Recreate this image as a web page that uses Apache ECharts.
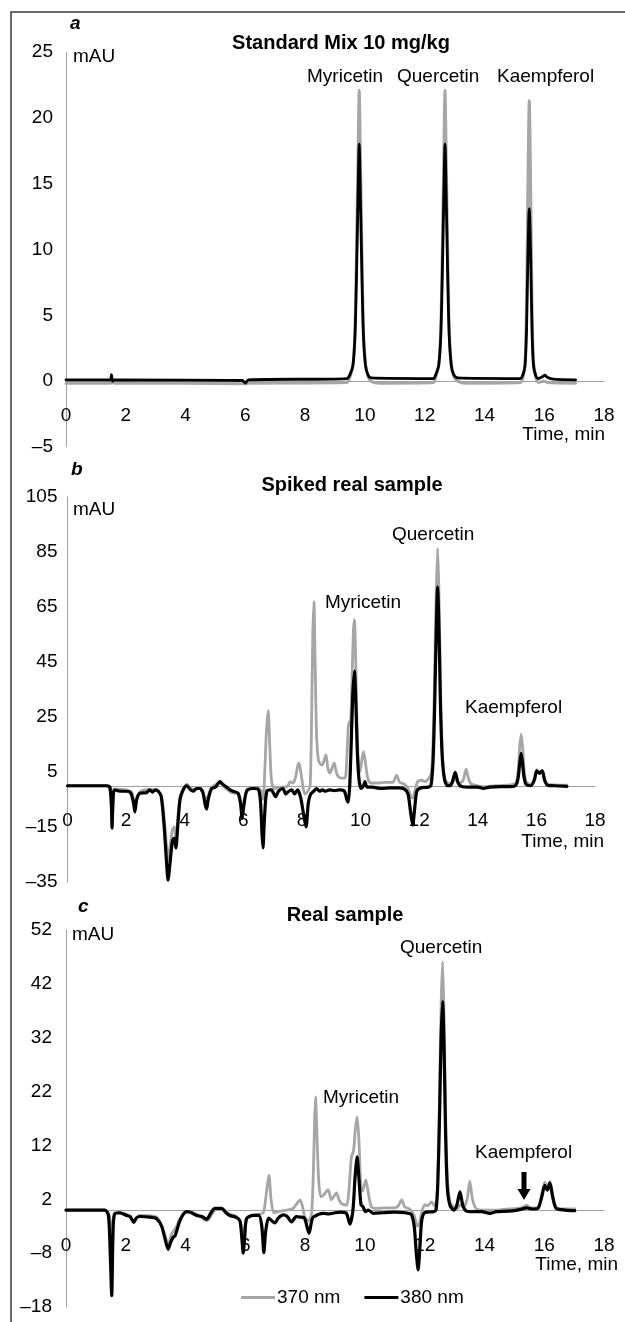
<!DOCTYPE html>
<html>
<head>
<meta charset="utf-8">
<script src="https://cdn.jsdelivr.net/npm/echarts@6/dist/echarts.min.js"></script>
<style>
html,body{margin:0;padding:0;background:#fff;}
#chart{width:625px;height:1322px;}
</style>
</head>
<body>
<div id="chart"></div>
<script>
// ---------- DATA ----------
var xTicks = [0, 2, 4, 6, 8, 10, 12, 14, 16, 18];
var yTicksA = [-5, 0, 5, 10, 15, 20, 25];
var yTicksB = [-35, -15, 5, 25, 45, 65, 85, 105];
var yTicksC = [-18, -8, 2, 12, 22, 32, 42, 52];
var seriesNames = ['370 nm', '380 nm'];
var panelTitles = ['Standard Mix 10 mg/kg', 'Spiked real sample', 'Real sample'];
var panelLetters = ['a', 'b', 'c'];
var peakNames = ['Myricetin', 'Quercetin', 'Kaempferol'];

// Panel a: standard mix
var a370 = [[0,-0.15],[1.5,-0.15],[1.55,-0.05],[1.6,-0.15],[4,-0.15],[6,-0.2],[6.1,-0.15],[9.4,-0.1],[9.5,0.3],[9.6,1.2],[9.67,4],[9.72,10],[9.77,17],[9.81,22.1],[9.85,17],[9.9,10],[9.95,4],[10.02,1.3],[10.1,0.4],[10.2,0],[10.5,-0.15],
  [12.3,-0.1],[12.37,0.3],[12.47,1.2],[12.54,4],[12.59,10],[12.64,17],[12.68,22.1],[12.72,17],[12.77,10],[12.82,4],[12.89,1.3],[12.97,0.4],[13.1,0],[13.4,-0.15],
  [15.2,-0.1],[15.29,0.3],[15.36,1.5],[15.41,6],[15.45,14],[15.5,21.3],[15.55,14],[15.59,6],[15.64,1.5],[15.72,0.3],[15.8,-0.1],[16.0,0],[16.1,-0.1],[17.05,-0.15]];
var a380 = [[0,0.1],[1.48,0.1],[1.52,0.5],[1.56,0],[1.62,0.1],[5.9,0.05],[6.0,-0.15],[6.1,0.1],[9.4,0.2],[9.5,0.5],[9.6,1.2],[9.67,3.5],[9.72,8],[9.77,14],[9.81,18],[9.85,14],[9.9,8],[9.95,3.5],[10.02,1.2],[10.1,0.5],[10.2,0.25],
  [12.3,0.2],[12.37,0.5],[12.47,1.2],[12.54,3.5],[12.59,8],[12.64,14],[12.68,18],[12.72,14],[12.77,8],[12.82,3.5],[12.89,1.2],[12.97,0.5],[13.1,0.25],
  [15.2,0.2],[15.29,0.5],[15.36,1.2],[15.41,4],[15.45,9],[15.5,13.1],[15.55,9],[15.59,4],[15.64,1.2],[15.72,0.4],[15.8,0.2],[15.95,0.35],[16.02,0.45],[16.1,0.3],[16.3,0.15],[17.05,0.1]];

// Panel b: spiked real sample
var b370 = [[0,0],[1.35,0],[1.5,-6],[1.53,-12],[1.57,-4],[1.62,-1.2],[2.0,-1.5],[2.2,-2.5],[2.3,-8],[2.38,-4],[2.5,-2],[2.8,-1.3],[3.0,-1.5],[3.2,-3.5],[3.3,-12],[3.38,-22],[3.43,-27],[3.5,-22],[3.58,-16],[3.64,-15],[3.7,-19],[3.76,-12],[3.84,-4],[3.95,-1],[4.07,0.5],[4.3,-1.5],[4.5,-0.5],[4.62,-2],[4.72,-6],[4.8,-3.5],[4.92,-0.5],[5.2,1],[5.4,-1],[5.6,-2.5],[5.82,-3],[5.96,-9],[6.1,-2.5],[6.3,-1],[6.5,-1],[6.62,-2],[6.68,-5],[6.73,5],[6.79,20],[6.85,27.3],[6.9,15],[6.96,2],[7.05,-1],[7.3,-0.5],[7.5,-0.3],[7.6,1.5],[7.7,1],[7.78,3],[7.85,7],[7.9,8.2],[7.96,5],[8.03,0],[8.1,-3],[8.2,-2],[8.28,0],[8.33,25],[8.37,55],[8.41,66.9],[8.45,45],[8.5,18],[8.56,9.4],[8.62,8],[8.69,7.5],[8.75,9],[8.82,11.2],[8.89,6],[8.96,4.6],[9.03,6.5],[9.1,8.3],[9.17,5],[9.24,3.3],[9.35,2.8],[9.47,2.8],[9.53,10],[9.58,21],[9.61,23.2],[9.65,22],[9.7,35],[9.75,55],[9.79,60.3],[9.83,48],[9.88,22],[9.93,8],[9.98,5],[10.04,9],[10.1,12.4],[10.16,9],[10.24,3],[10.35,1],[10.6,1],[10.9,1.2],[11.1,1.2],[11.23,3.9],[11.33,1.3],[11.5,0.5],[11.62,-1],[11.72,-4],[11.78,-4.5],[11.85,-2],[11.95,1.5],[12.09,2],[12.2,1.5],[12.35,3],[12.42,5],[12.47,15],[12.52,35],[12.57,65],[12.63,86.3],[12.68,68],[12.73,35],[12.79,12],[12.87,3],[12.97,1],[13.1,0.8],[13.23,2.5],[13.35,0.8],[13.5,2],[13.6,6],[13.7,2],[13.8,0.5],[14.2,-0.3],[14.6,0],[15.1,0.3],[15.3,1],[15.38,6],[15.43,14],[15.48,18.8],[15.53,14],[15.58,6],[15.65,1.5],[15.8,0.5],[15.93,2.5],[16.01,5.8],[16.1,5],[16.2,5.6],[16.28,2.5],[16.38,0.5],[16.6,0.3],[17.04,0.2]];
var b380 = [[0,0],[1.35,0],[1.45,-0.5],[1.5,-8],[1.52,-15.4],[1.55,-6],[1.6,-1.5],[1.8,-2],[2.0,-2],[2.15,-2.5],[2.25,-6],[2.3,-9.5],[2.36,-5],[2.47,-2.7],[2.7,-2.5],[2.8,-1.5],[2.9,-2.3],[3.0,-1.5],[3.1,-2],[3.2,-4],[3.3,-15],[3.38,-28],[3.43,-34.3],[3.5,-28],[3.58,-20],[3.64,-19],[3.7,-22.6],[3.76,-15],[3.84,-5],[3.95,-1.5],[4.07,0],[4.2,-1.5],[4.29,-2],[4.4,-1],[4.52,-1],[4.62,-2.5],[4.7,-7],[4.75,-8.5],[4.8,-5],[4.92,-1],[5.05,-0.5],[5.2,1.5],[5.3,0.5],[5.43,-0.5],[5.55,-1.5],[5.65,-2],[5.82,-2.7],[5.9,-6],[5.96,-11.8],[6.02,-7],[6.12,-1.7],[6.33,-1],[6.5,-1.2],[6.58,-5],[6.64,-18],[6.67,-22.6],[6.72,-12],[6.8,-2],[6.95,-1.5],[7.1,-4],[7.2,-2],[7.35,-1],[7.45,-3],[7.55,-2],[7.65,-1.5],[7.75,-3],[7.85,-1.5],[7.95,-4],[8.05,-10],[8.14,-15],[8.22,-6],[8.3,-3],[8.4,-2],[8.5,-1],[8.6,-2],[8.7,-1.5],[8.8,-2],[8.95,-1.5],[9.1,-1.8],[9.3,-1.5],[9.45,-2],[9.53,-5],[9.58,-6],[9.63,0],[9.68,15],[9.73,32],[9.79,41.7],[9.84,30],[9.89,12],[9.95,2],[10.02,-1],[10.1,0],[10.15,1.5],[10.22,-0.5],[10.4,-0.5],[10.7,-1],[11.0,-0.8],[11.3,-0.8],[11.5,-1.2],[11.62,-3],[11.7,-9],[11.78,-14.3],[11.85,-8],[11.92,-2],[12.05,-0.8],[12.3,-0.5],[12.4,0],[12.47,8],[12.52,25],[12.57,50],[12.63,72.2],[12.68,55],[12.73,28],[12.79,10],[12.87,2],[12.97,0],[13.1,0.5],[13.23,4.9],[13.33,1],[13.45,-0.3],[13.7,-0.5],[14.0,-0.5],[14.19,-1],[14.4,-0.5],[14.8,-0.3],[15.1,-0.3],[15.3,0.2],[15.38,3],[15.43,8],[15.48,11.8],[15.53,8],[15.58,3],[15.65,0.5],[15.8,0],[15.93,2],[16.01,5.4],[16.1,4.5],[16.2,5.4],[16.28,2],[16.38,0.2],[16.6,0],[17.04,-0.2]];

// Panel c: real sample
var c370 = [[0,0],[1.3,0],[1.45,-1],[1.5,-4],[1.54,-6],[1.58,-2],[1.65,-0.5],[2.03,-0.8],[2.27,-2],[2.47,-1],[3.03,-1.3],[3.3,-4.5],[3.42,-6.5],[3.52,-4.5],[3.59,-4],[3.7,-3],[3.79,-1.8],[4.04,-0.3],[4.37,-0.8],[4.71,-2],[4.98,0],[5.21,0.2],[5.48,-0.8],[5.71,-1.2],[5.88,-3],[5.93,-6.5],[6.0,-3],[6.1,-1.2],[6.4,-0.8],[6.6,-0.5],[6.7,3],[6.79,6.5],[6.86,2],[6.95,-0.5],[7.1,-0.3],[7.4,0],[7.6,0.3],[7.7,1],[7.83,1.9],[7.92,0.5],[8.0,-1.5],[8.13,-2],[8.22,-0.5],[8.28,8],[8.32,17],[8.35,21],[8.39,15],[8.45,6],[8.52,2.5],[8.62,2.8],[8.77,3.8],[8.88,1.9],[8.96,2.5],[9.05,3.2],[9.13,2],[9.22,1.2],[9.39,0.9],[9.47,4],[9.55,9.9],[9.62,11],[9.68,15],[9.74,17.3],[9.8,13],[9.86,5],[9.92,3.5],[10.03,5.6],[10.12,3],[10.22,0.6],[10.4,0.3],[10.7,0.4],[11.0,0.4],[11.12,0.8],[11.23,1.9],[11.33,0.6],[11.5,0.2],[11.65,-1],[11.75,-3],[11.82,-2.5],[11.9,-0.5],[12.0,1],[12.1,0.8],[12.23,1.5],[12.33,0.8],[12.4,2],[12.45,8],[12.5,22],[12.55,38],[12.6,46.1],[12.65,36],[12.7,18],[12.76,6],[12.85,1.5],[12.98,0.5],[13.1,0.3],[13.18,1],[13.3,0.5],[13.42,2],[13.51,5.3],[13.6,2],[13.72,0.3],[14.0,0],[14.4,0],[14.8,0.2],[15.1,0.3],[15.3,0.5],[15.41,0.9],[15.55,0.4],[15.8,0.5],[15.92,3],[16.02,5.2],[16.1,4.2],[16.19,5.3],[16.28,3],[16.4,0.5],[16.7,0.2],[17.02,0.2]];
var c380 = [[0,0],[1.3,0],[1.42,-1],[1.48,-8],[1.53,-15.9],[1.57,-5],[1.62,-0.8],[1.8,-0.5],[2.03,-1],[2.15,-1.2],[2.27,-2.3],[2.35,-1.5],[2.47,-1.2],[2.8,-1.3],[3.03,-1.6],[3.2,-3],[3.32,-5.5],[3.42,-7.3],[3.5,-6],[3.59,-5],[3.65,-4.8],[3.79,-2.3],[3.92,-0.8],[4.04,-0.3],[4.2,-0.5],[4.37,-1],[4.55,-1.2],[4.71,-1.7],[4.85,-0.5],[4.98,0.3],[5.21,0.3],[5.35,-0.5],[5.48,-1],[5.71,-1.4],[5.82,-2],[5.88,-5],[5.93,-8],[5.98,-5],[6.04,-1.6],[6.26,-1],[6.45,-1],[6.55,-3],[6.62,-7.9],[6.68,-4],[6.78,-1.5],[6.99,-2.4],[7.1,-1.5],[7.27,-0.9],[7.4,-1.2],[7.55,-2.2],[7.7,-1.2],[7.83,-1.3],[7.98,-1.5],[8.13,-4.3],[8.25,-1.5],[8.45,-0.8],[8.6,-0.6],[8.8,-0.7],[9.0,-0.5],[9.2,-0.4],[9.38,-0.6],[9.5,-2.6],[9.6,0],[9.67,6],[9.74,9.9],[9.8,6],[9.87,1],[9.94,0.6],[10.02,-0.3],[10.11,0],[10.28,-0.6],[10.6,-0.5],[11.0,-0.4],[11.35,-0.5],[11.55,-0.8],[11.65,-3],[11.72,-8],[11.78,-11.1],[11.84,-7],[11.9,-2],[12.0,-0.5],[12.3,-0.3],[12.38,0],[12.44,5],[12.5,18],[12.55,32],[12.6,38.7],[12.65,30],[12.7,14],[12.76,4],[12.85,0.8],[12.98,0],[13.08,1],[13.18,3.4],[13.28,0.8],[13.4,-0.2],[13.6,-0.3],[13.9,-0.3],[14.18,-0.6],[14.4,-0.3],[14.8,-0.2],[15.1,0],[15.25,0.2],[15.41,0.4],[15.6,0.2],[15.8,0.4],[15.92,2.5],[16.02,4.6],[16.1,3.7],[16.19,5],[16.28,2.5],[16.4,0.3],[16.7,0],[17.02,-0.1]];

// ---------- CHART ----------
var FONT = "'Liberation Sans', Arial, sans-serif";
var GREY = '#a6a6a6';
var AXIS = '#a0a0a0';
var dash = function (v) { return String(v).replace('-', '\u2013'); };

var grids = [
  {left: 66, top: 52, width: 538, height: 395},
  {left: 67.5, top: 497, width: 527.5, height: 385},
  {left: 66, top: 930, width: 538, height: 377}
];
var yRanges = [
  {min: -5, max: 25, interval: 5, ticks: yTicksA, margin: 13},
  {min: -35, max: 105, interval: 20, ticks: yTicksB, margin: 10},
  {min: -18, max: 52, interval: 10, ticks: yTicksC, margin: 14}
];
var xMargins = [25, 26, 26];

var xAxes = grids.map(function (g, i) {
  var r = yRanges[i];
  // move the x axis (line + labels) up to the y = 0 level of its own grid
  var zeroOffset = -g.height * (0 - r.min) / (r.max - r.min);
  return {
    type: 'value', gridIndex: i, min: xTicks[0], max: xTicks[xTicks.length - 1], interval: 2,
    position: 'bottom', offset: zeroOffset,
    axisLine: {onZero: false, lineStyle: {color: AXIS, width: 1}},
    axisTick: {show: false}, splitLine: {show: false},
    axisLabel: {color: '#000', fontSize: 19, fontFamily: FONT, margin: xMargins[i]}
  };
});
var yAxes = yRanges.map(function (r, i) {
  return {
    type: 'value', gridIndex: i, min: r.min, max: r.max, interval: r.interval,
    axisLine: {show: true, lineStyle: {color: AXIS, width: 1}},
    axisTick: {show: false}, splitLine: {show: false},
    axisLabel: {color: '#000', fontSize: 19, fontFamily: FONT, margin: r.margin,
      customValues: r.ticks, formatter: dash}
  };
});

function mk(name, data, idx, color, width) {
  return {
    name: name, type: 'line', xAxisIndex: idx, yAxisIndex: idx, data: data,
    showSymbol: false, symbol: 'none', smooth: 0.25, animation: false,
    lineStyle: {color: color, width: width, join: 'round', cap: 'round'},
    itemStyle: {color: color}, z: color === '#000' ? 3 : 2
  };
}
var series = [
  mk(seriesNames[0], a370, 0, GREY, 3), mk(seriesNames[1], a380, 0, '#000', 2.8),
  mk(seriesNames[0], b370, 1, GREY, 2.8), mk(seriesNames[1], b380, 1, '#000', 3.2),
  mk(seriesNames[0], c370, 2, GREY, 2.8), mk(seriesNames[1], c380, 2, '#000', 3.2)
];

function txt(s, x, y, opts) {
  opts = opts || {};
  return {
    type: 'text', x: x, y: y, z: 10,
    style: {
      text: s, fill: '#000', font: (opts.weight || 'normal') + ' ' + (opts.size || 19) + 'px ' + FONT,
      align: opts.align || 'left', verticalAlign: 'middle'
    }
  };
}

var graphic = [
  {type: 'rect', shape: {x: 11, y: 12, width: 640, height: 1340},
    style: {fill: 'none', stroke: '#3a3a3a', lineWidth: 1.5}, z: 1},
  {type: 'text', x: 70, y: 24, style: {text: panelLetters[0], fill: '#000', font: 'italic bold 19px ' + FONT, verticalAlign: 'middle'}},
  {type: 'text', x: 71, y: 470, style: {text: panelLetters[1], fill: '#000', font: 'italic bold 19px ' + FONT, verticalAlign: 'middle'}},
  {type: 'text', x: 78, y: 907, style: {text: panelLetters[2], fill: '#000', font: 'italic bold 19px ' + FONT, verticalAlign: 'middle'}},
  txt(panelTitles[0], 341, 43, {align: 'center', weight: 'bold', size: 20}),
  txt(panelTitles[1], 352, 485, {align: 'center', weight: 'bold', size: 20}),
  txt(panelTitles[2], 345, 915, {align: 'center', weight: 'bold', size: 20}),
  txt('mAU', 73, 57), txt('mAU', 73, 510), txt('mAU', 72, 935),
  txt('Time, min', 605, 435, {align: 'right'}),
  txt('Time, min', 604, 842, {align: 'right'}),
  txt('Time, min', 618, 1265, {align: 'right'}),
  txt(peakNames[0], 307, 77), txt(peakNames[1], 397, 77), txt(peakNames[2], 497, 77),
  txt(peakNames[1], 392, 535), txt(peakNames[0], 325, 603), txt(peakNames[2], 465, 708),
  txt(peakNames[1], 400, 948), txt(peakNames[0], 323, 1098), txt(peakNames[2], 475, 1153),
  {type: 'polygon', z: 10, shape: {points: [[521.5, 1172], [526.5, 1172], [526.5, 1189], [530.5, 1189], [524, 1200], [517.5, 1189], [521.5, 1189]]},
    style: {fill: '#000'}}
];

var chart = echarts.init(document.getElementById('chart'), null, {renderer: 'canvas'});
chart.setOption({
  animation: false,
  backgroundColor: '#fff',
  textStyle: {fontFamily: FONT},
  grid: grids,
  xAxis: xAxes,
  yAxis: yAxes,
  legend: {
    data: seriesNames, left: 236, top: 1283, icon: 'rect', itemWidth: 34, itemHeight: 3,
    itemGap: 24, textStyle: {fontSize: 19, color: '#000', fontFamily: FONT, padding: [0, 0, 0, -3]},
    selectedMode: false
  },
  series: series,
  graphic: graphic
});
</script>
</body>
</html>
